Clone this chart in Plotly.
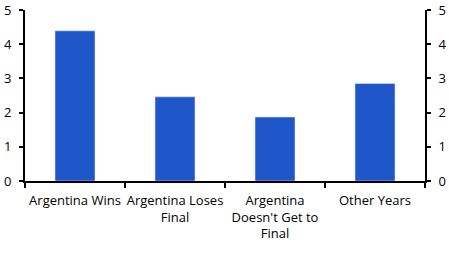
import plotly.graph_objects as go

categories = ["Argentina Wins", "Argentina Loses<br>Final", "Argentina<br>Doesn't Get to<br>Final", "Other Years"]
values = [4.39, 2.46, 1.87, 2.85]
y_ticks = [0, 1, 2, 3, 4, 5]

fig = go.Figure()
fig.add_trace(go.Bar(x=categories, y=values, marker=dict(color="#1f57cb", line=dict(width=0)), showlegend=False))
fig.add_trace(go.Bar(x=categories, y=values, yaxis="y2", marker=dict(color="rgba(0,0,0,0)"), showlegend=False, hoverinfo="skip"))

font = dict(family="Open Sans, Noto Sans, sans-serif", size=13, color="#000")
axis_common = dict(range=[0, 5], tickvals=y_ticks, showgrid=False, zeroline=False,
                   showline=True, linecolor="black", linewidth=2, ticks="outside",
                   ticklen=4, tickwidth=2, tickcolor="black", tickfont=font, fixedrange=True,
                   ticklabelstandoff=5, automargin=False)

fig.update_layout(
    width=449, height=253,
    margin=dict(l=25, r=24, t=10, b=72),
    paper_bgcolor="white", plot_bgcolor="white",
    bargap=0.6, barmode="overlay",
    font=font,
    xaxis=dict(showgrid=False, showline=True, linecolor="black", linewidth=2,
               ticks="outside", tickson="boundaries", ticklen=5, tickwidth=2, tickcolor="black",
               tickfont=font, ticklabelstandoff=6, tickangle=0, automargin=False),
    yaxis=dict(side="left", **axis_common),
    yaxis2=dict(side="right", overlaying="y", **axis_common),
)
fig.write_html("out.html")
